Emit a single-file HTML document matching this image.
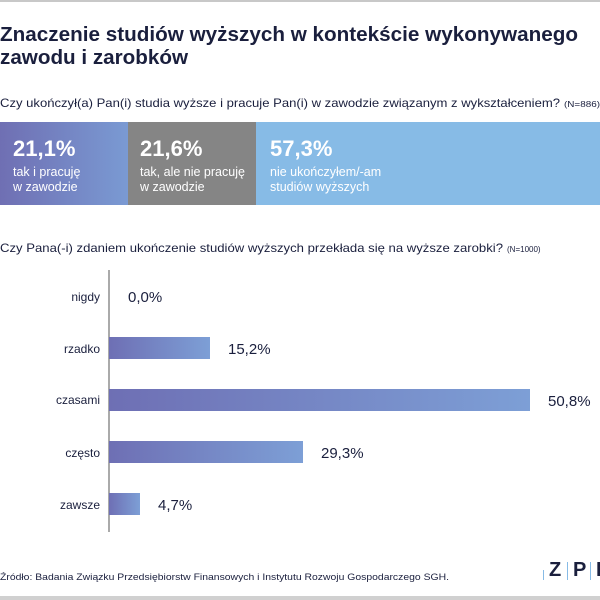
<!DOCTYPE html>
<html><head><meta charset="utf-8"><style>
html,body{margin:0;padding:0;background:#fff;width:600px;height:600px;overflow:hidden}
svg{display:block}
text{font-family:"Liberation Sans",sans-serif}
</style></head><body>
<svg width="600" height="600" viewBox="0 0 600 600">
<defs>
<linearGradient id="g1" x1="0" x2="1" y1="0" y2="0"><stop offset="0" stop-color="#6f6fb3"/><stop offset="1" stop-color="#7a9ad3"/></linearGradient>
<linearGradient id="g2" x1="0" x2="1" y1="0" y2="0"><stop offset="0" stop-color="#6e6fb4"/><stop offset="1" stop-color="#7d9fd6"/></linearGradient>
</defs>
<rect x="0" y="0" width="600" height="2" fill="#c8c8c8"/>
<text x="0" y="41" font-size="20" font-weight="bold" fill="#1a1f3d" textLength="578" lengthAdjust="spacingAndGlyphs">Znaczenie studiów wyższych w kontekście wykonywanego</text>
<text x="0" y="64" font-size="20" font-weight="bold" fill="#1a1f3d" textLength="188" lengthAdjust="spacingAndGlyphs">zawodu i zarobków</text>
<text x="0" y="107" font-size="12" fill="#1a1f3d" textLength="560" lengthAdjust="spacingAndGlyphs">Czy ukończył(a) Pan(i) studia wyższe i pracuje Pan(i) w zawodzie związanym z wykształceniem?</text>
<text x="564" y="107" font-size="8" fill="#1a1f3d" textLength="36" lengthAdjust="spacingAndGlyphs">(N=886)</text>
<rect x="0" y="122" width="128" height="83" fill="url(#g1)"/>
<rect x="128" y="122" width="128" height="83" fill="#858585"/>
<rect x="256" y="122" width="344" height="83" fill="#87bbe6"/>
<g fill="#fff">
<text x="13" y="156" font-size="22" font-weight="bold">21,1%</text>
<text x="13" y="176" font-size="12.5">tak i pracuję</text>
<text x="13" y="191" font-size="12.5">w zawodzie</text>
<text x="140" y="156" font-size="22" font-weight="bold">21,6%</text>
<text x="140" y="176" font-size="12.5">tak, ale nie pracuję</text>
<text x="140" y="191" font-size="12.5">w zawodzie</text>
<text x="270" y="156" font-size="22" font-weight="bold">57,3%</text>
<text x="270" y="176" font-size="12.5">nie ukończyłem/-am</text>
<text x="270" y="191" font-size="12.5">studiów wyższych</text>
</g>
<text x="0" y="252" font-size="12" fill="#1a1f3d" textLength="503" lengthAdjust="spacingAndGlyphs">Czy Pana(-i) zdaniem ukończenie studiów wyższych przekłada się na wyższe zarobki?</text>
<text x="507" y="252" font-size="8" fill="#1a1f3d">(N=1000)</text>
<rect x="108.5" y="270" width="1" height="262" fill="#555"/>
<g font-size="12" fill="#1a1f3d" text-anchor="end">
<text x="100" y="301">nigdy</text>
<text x="100" y="353">rzadko</text>
<text x="100" y="404">czasami</text>
<text x="100" y="457">często</text>
<text x="100" y="509">zawsze</text>
</g>
<rect x="109" y="337" width="101" height="22" fill="url(#g2)"/>
<rect x="109" y="389" width="421" height="22" fill="url(#g2)"/>
<rect x="109" y="441" width="194" height="22" fill="url(#g2)"/>
<rect x="109" y="493" width="31" height="22" fill="url(#g2)"/>
<g font-size="15" fill="#1a1f3d">
<text x="128" y="302">0,0%</text>
<text x="228" y="354">15,2%</text>
<text x="548" y="406">50,8%</text>
<text x="321" y="458">29,3%</text>
<text x="158" y="510">4,7%</text>
</g>
<text x="0" y="580" font-size="9.5" fill="#1a1f3d" textLength="449" lengthAdjust="spacingAndGlyphs">Źródło: Badania Związku Przedsiębiorstw Finansowych i Instytutu Rozwoju Gospodarczego SGH.</text>
<g fill="#1a1f3d" font-size="20" font-weight="bold">
<text x="549" y="576">Z</text>
<text x="573" y="576">P</text>
<text x="596" y="576">I</text>
</g>
<rect x="543" y="570" width="1" height="10" fill="#87bbe6"/>
<rect x="567" y="562" width="1" height="18" fill="#87bbe6"/>
<rect x="590" y="562" width="1" height="18" fill="#87bbe6"/>
<rect x="0" y="596" width="600" height="4" fill="#d0d0d0"/>
</svg>
</body></html>
